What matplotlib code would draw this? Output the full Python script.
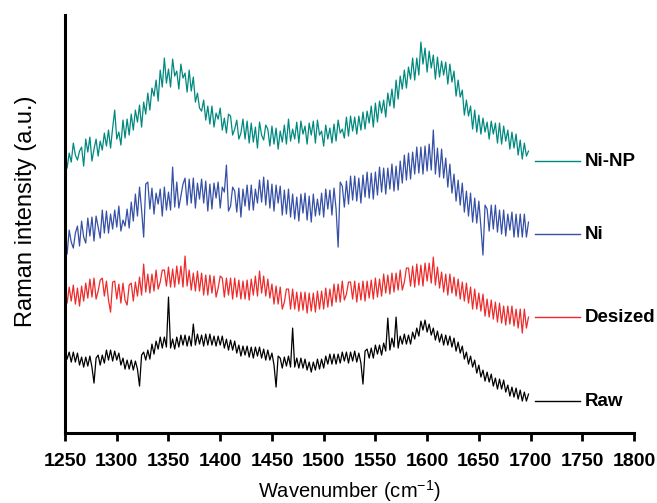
import numpy as np
import matplotlib
matplotlib.use("Agg")
import matplotlib.pyplot as plt

wavenumber = np.arange(1250, 1700, 2)

ni_np = [280, 264, 279, 270, 289, 277, 272, 281, 285, 266,
         293, 280, 295, 271, 283, 293, 276, 291, 282, 299,
         286, 302, 284, 304, 322, 293, 300, 287, 312, 294,
         313, 297, 318, 302, 322, 310, 327, 305, 330, 318,
         339, 322, 344, 336, 352, 331, 362, 345, 374, 349,
         363, 345, 373, 356, 361, 343, 368, 354, 359, 340,
         362, 341, 355, 330, 339, 324, 321, 332, 312, 326,
         308, 326, 305, 319, 313, 324, 302, 314, 299, 318,
         316, 297, 303, 312, 293, 299, 313, 293, 311, 289,
         309, 290, 305, 284, 310, 297, 292, 307, 303, 286,
         306, 288, 304, 283, 301, 290, 307, 288, 313, 291,
         303, 293, 310, 289, 311, 298, 306, 288, 309, 297,
         311, 289, 312, 297, 301, 286, 307, 293, 304, 289,
         308, 291, 312, 299, 303, 294, 315, 296, 316, 301,
         315, 298, 316, 302, 320, 303, 321, 309, 326, 305,
         329, 310, 331, 319, 332, 315, 339, 326, 343, 324,
         352, 333, 356, 343, 362, 344, 365, 353, 374, 352,
         374, 357, 390, 368, 384, 360, 381, 364, 377, 353,
         375, 355, 371, 357, 370, 348, 368, 350, 361, 336,
         352, 335, 342, 317, 332, 316, 326, 303, 322, 300,
         317, 298, 314, 300, 310, 293, 311, 298, 309, 289,
         309, 288, 306, 291, 302, 283, 300, 284, 298, 277,
         292, 273, 289, 276, 281]

ni = [195, 178, 202, 190, 184, 199, 206, 186, 211, 195,
      189, 214, 196, 215, 191, 216, 205, 194, 222, 199,
      221, 199, 218, 203, 222, 205, 226, 201, 212, 206,
      223, 204, 230, 211, 238, 216, 245, 222, 195, 248,
      250, 223, 244, 218, 239, 228, 243, 216, 245, 222,
      240, 222, 265, 225, 250, 224, 236, 248, 254, 227,
      253, 229, 254, 224, 249, 233, 253, 229, 251, 221,
      248, 223, 249, 234, 250, 224, 245, 240, 267, 221,
      226, 245, 241, 220, 244, 215, 243, 226, 247, 222,
      247, 222, 243, 229, 252, 230, 255, 227, 252, 224,
      248, 221, 247, 229, 246, 217, 242, 218, 243, 215,
      238, 213, 235, 211, 238, 219, 239, 212, 236, 210,
      238, 216, 233, 217, 239, 215, 243, 223, 242, 217,
      244, 223, 185, 250, 246, 225, 251, 228, 256, 232,
      256, 231, 254, 229, 257, 235, 260, 234, 259, 233,
      260, 237, 265, 240, 264, 238, 264, 243, 268, 241,
      266, 242, 271, 249, 277, 252, 279, 253, 280, 258,
      285, 259, 285, 258, 286, 261, 288, 262, 302, 258,
      284, 255, 283, 254, 274, 245, 268, 239, 258, 231,
      252, 227, 249, 220, 241, 216, 239, 210, 234, 209,
      231, 205, 177, 227, 223, 201, 227, 203, 227, 200,
      222, 198, 222, 196, 218, 202, 220, 195, 218, 195,
      218, 195, 218, 195, 210]

desized = [146, 129, 145, 131, 147, 128, 144, 126, 146, 131,
           149, 134, 153, 135, 154, 133, 141, 152, 154, 136,
           151, 132, 120, 150, 151, 133, 148, 129, 149, 132,
           127, 147, 149, 131, 150, 136, 155, 137, 168, 140,
           158, 139, 158, 141, 162, 143, 150, 162, 162, 146,
           165, 145, 163, 145, 166, 148, 166, 145, 176, 146,
           162, 142, 159, 141, 161, 141, 159, 137, 157, 137,
           157, 139, 156, 135, 144, 156, 154, 135, 154, 137,
           154, 133, 154, 135, 152, 133, 151, 133, 152, 132,
           153, 137, 156, 136, 161, 139, 156, 136, 153, 134,
           148, 128, 146, 128, 145, 123, 130, 143, 143, 123,
           143, 123, 140, 121, 140, 122, 140, 119, 139, 121,
           139, 120, 141, 123, 141, 123, 144, 125, 143, 126,
           148, 130, 148, 130, 151, 132, 138, 150, 150, 133,
           151, 130, 149, 132, 151, 131, 151, 134, 152, 133,
           154, 135, 153, 136, 158, 139, 157, 138, 159, 140,
           159, 142, 162, 142, 150, 164, 164, 146, 166, 145,
           168, 147, 167, 146, 169, 151, 169, 149, 175, 147,
           165, 144, 160, 140, 158, 137, 158, 139, 155, 136,
           153, 133, 150, 131, 149, 129, 145, 123, 143, 123,
           139, 121, 138, 116, 133, 115, 132, 113, 130, 110,
           129, 109, 126, 107, 126, 108, 126, 106, 123, 104,
           123, 99, 123, 104, 115]

raw = [83, 73, 80, 70, 80, 70, 79, 67, 75, 65,
       75, 66, 76, 65, 49, 74, 77, 67, 77, 69,
       82, 72, 82, 71, 81, 72, 79, 67, 74, 63,
       72, 63, 72, 62, 71, 63, 46, 77, 80, 72,
       82, 73, 88, 78, 91, 83, 95, 84, 95, 85,
       135, 84, 93, 83, 95, 85, 97, 87, 97, 86,
       96, 86, 108, 87, 98, 88, 97, 86, 98, 87,
       98, 87, 96, 86, 96, 87, 96, 84, 93, 82,
       92, 82, 91, 79, 87, 76, 86, 77, 86, 75,
       85, 74, 85, 76, 85, 74, 83, 72, 82, 72,
       79, 67, 45, 76, 74, 64, 75, 66, 76, 65,
       104, 65, 74, 64, 74, 64, 73, 62, 70, 60,
       70, 62, 73, 63, 73, 64, 76, 68, 78, 68,
       78, 68, 78, 69, 80, 71, 80, 69, 80, 71,
       81, 70, 79, 69, 48, 81, 83, 74, 84, 74,
       87, 78, 87, 77, 89, 81, 114, 82, 94, 85,
       115, 84, 96, 88, 98, 88, 97, 88, 100, 93,
       104, 96, 111, 102, 112, 100, 108, 97, 104, 92,
       101, 90, 98, 87, 97, 87, 96, 85, 94, 81,
       90, 79, 86, 73, 80, 68, 76, 65, 72, 59,
       67, 55, 62, 51, 60, 50, 58, 46, 54, 43,
       53, 43, 52, 40, 47, 36, 45, 35, 44, 33,
       42, 31, 40, 31, 38]

names = ["Ni-NP", "Ni", "Desized", "Raw"]
colors = ["#00897f", "#3550a6", "#ee2b2b", "#000000"]
label_y = [271, 198, 115, 31]

plt.rcParams["font.family"] = ["Liberation Sans", "DejaVu Sans"]

fig = plt.figure(figsize=(6.57, 5.03), dpi=100)
ax = fig.add_axes([0.099, 0.139, 0.866, 0.831])

for vals, name, c, ly in zip([ni_np, ni, desized, raw], names, colors, label_y):
    ax.plot(wavenumber, vals, color=c, lw=0.9)
    # short stub + name to the right of each trace
    ax.plot([1704, 1748], [ly, ly], color=c, lw=1.0)
    ax.text(1752, ly, name, ha="left", va="center", fontsize=13.5, fontweight="bold")

ax.set_xlim(1250, 1800)
ax.set_ylim(-1, 417)
ax.set_xticks(range(1250, 1801, 50))
ax.set_yticks([])
ax.tick_params(axis="x", direction="out", length=6, width=2, pad=8, labelsize=14)
for lbl in ax.get_xticklabels():
    lbl.set_fontweight("bold")

for side in ["top", "right"]:
    ax.spines[side].set_visible(False)
for side in ["left", "bottom"]:
    ax.spines[side].set_linewidth(2.2)

ax.set_xlabel(r"Wavenumber (cm$^{\mathregular{-1}}$)", fontsize=14.5, labelpad=6)
ax.set_ylabel("Raman intensity (a.u.)", fontsize=17)
ax.yaxis.set_label_coords(-0.05, 0.53)

fig.savefig("out.png", dpi=100)
